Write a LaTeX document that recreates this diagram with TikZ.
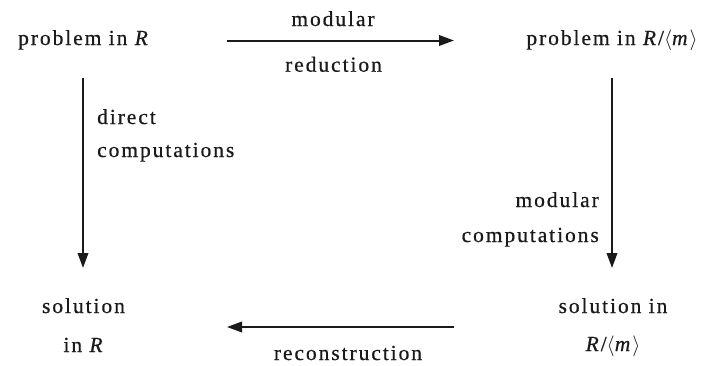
\documentclass[tikz,border=0pt]{standalone}
\usepackage{fontspec}
\setmainfont{Liberation Serif}[LetterSpace=9, FakeBold=0.6]
\usetikzlibrary{arrows.meta}
\definecolor{ink}{HTML}{1A1A1A}
\begin{document}
\begin{tikzpicture}[x=1pt,y=-1pt,
  lbl/.style={inner sep=0pt, anchor=base, text=ink, font=\fontsize{21.5}{25}\selectfont},
  lblw/.style={lbl, anchor=base west},
  lble/.style={lbl, anchor=base east},
  arr/.style={draw=ink, line width=2pt, -{Triangle[length=15pt,width=10.5pt]}}]
\useasboundingbox (0,0) rectangle (708,365);
% corner nodes
\node[lbl] (pR) at (84,45) {problem in \textit{R}};
\node[lbl] (pRm) at (612,45) {problem in \textit{R}/$\langle$\textit{m}$\rangle$};
\node[lbl] (sR1) at (83.5,313) {solution};
\node[lbl] (sR2) at (84,352) {in \textit{R}};
\node[lbl] (sRm1) at (613,313) {solution in};
\node[lbl] (sRm2) at (613,351) {\textit{R}/$\langle$\textit{m}$\rangle$};
% arrow labels
\node[lbl] (mr1) at (333,26) {modular};
\node[lbl] (mr2) at (333.5,71.7) {reduction};
\node[lblw] (dc1) at (97,124) {direct};
\node[lblw] (dc2) at (97,157) {computations};
\node[lble] (mc1) at (599,207) {modular};
\node[lble] (mc2) at (599,242) {computations};
\node[lbl] (rc) at (348,360) {reconstruction};
% arrow end points
\coordinate (t1) at (227,40.5);
\coordinate (t2) at (454,40.5);
\coordinate (l1) at (83,78);
\coordinate (l2) at (83,268);
\coordinate (r1) at (612,78);
\coordinate (r2) at (612,268);
\coordinate (b1) at (454,327);
\coordinate (b2) at (227,327);
\draw[arr] (t1) -- (t2);
\draw[arr] (l1) -- (l2);
\draw[arr] (r1) -- (r2);
\draw[arr] (b1) -- (b2);
\end{tikzpicture}
\end{document}
